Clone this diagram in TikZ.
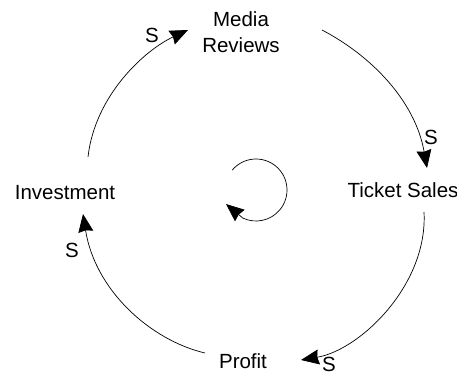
\documentclass[tikz,border=0pt]{standalone}
\usepackage{fontspec}
\setmainfont{Liberation Sans}
\usetikzlibrary{arrows.meta}
\begin{document}
\begin{tikzpicture}[x=1pt,y=-1pt,
  lbl/.style={inner sep=0pt,font=\fontsize{20.5}{26}\selectfont,align=center},
  link/.style={line width=0.7pt,-{Stealth[length=18pt,width=15pt,inset=1.5pt]}}]
\useasboundingbox (0,0) rectangle (457,375);
\node[lbl] (mr) at (241,32) {Media\\Reviews};
\node[lbl] (ts) at (403,190.5) {Ticket Sales};
\node[lbl] (pr) at (243,361) {Profit};
\node[lbl] (inv) at (65,192.5) {Investment};
\node[lbl] (s1) at (152,35) {S};
\node[lbl] (s2) at (431,137) {S};
\node[lbl] (s3) at (329,364) {S};
\node[lbl] (s4) at (72,250) {S};
\draw[link] ([shift={(23,-35.5)}]inv.center) .. controls (95,95) and (145,50) .. ([shift={(-53,-2)}]mr.center);
\draw[link] ([shift={(81,-2)}]mr.center) .. controls (370,55) and (415,100) .. ([shift={(24,-22.5)}]ts.center);
\draw[link] ([shift={(21,21.5)}]ts.center) .. controls (428,285) and (360,350) .. ([shift={(58,-1)}]pr.center);
\draw[link] ([shift={(-38,-8)}]pr.center) .. controls (150,340) and (95,290) .. ([shift={(18,21.5)}]inv.center);
\coordinate (loopc) at (256,190);
\coordinate (looptip) at (226,204);
\draw[link] ([shift={(-140:31)}]loopc) arc[start angle=-140,end angle=115,radius=31] -- (looptip);
\end{tikzpicture}
\end{document}
